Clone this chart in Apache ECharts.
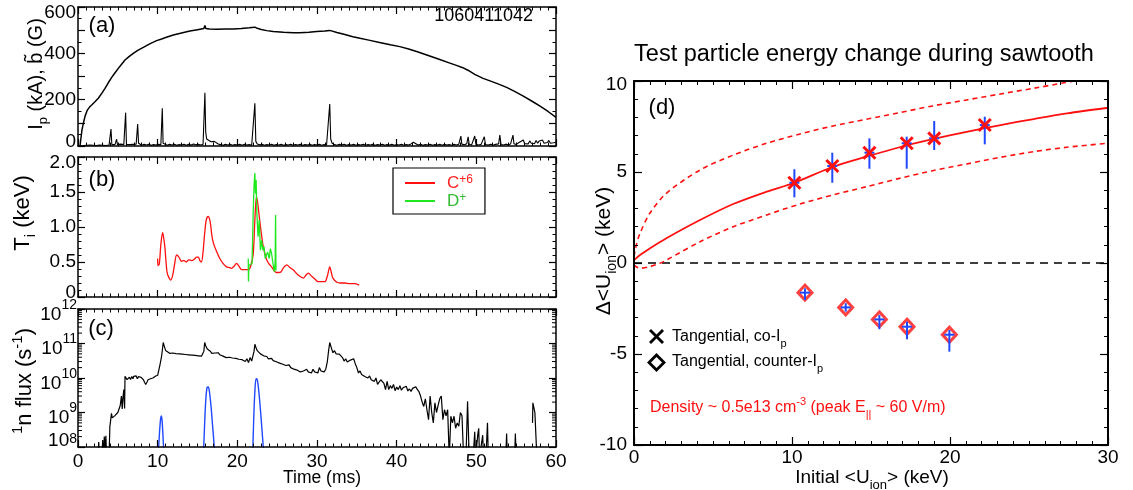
<!DOCTYPE html>
<html><head><meta charset="utf-8">
<script src="https://cdn.jsdelivr.net/npm/echarts@6/dist/echarts.min.js"></script>
<style>html,body{margin:0;padding:0;background:#fff}#c{width:1133px;height:490px}</style>
</head><body><div id="c"></div>
<script>
const FONT = '"Liberation Sans", Arial, Helvetica, sans-serif';

// ---------- Panel (a): plasma current and b-tilde (time ms, value) ----------
const ipCurrent = [[0.25,0],[0.5,70],[0.67,98],[0.9,130],[1.17,155],[1.45,168],[1.72,177],[2.1,190],[2.55,206],[3.0,228],[3.39,249],[3.8,273],[4.23,296],[4.65,316],[5.06,335],[5.5,354],[5.9,371],[6.4,386],[6.94,400],[7.5,413],[8.2,426],[9.0,441],[9.87,455],[10.5,462],[11.0,468],[11.96,479],[13.0,488],[14.05,496],[15.0,502],[15.8,507],[15.93,520],[16.05,507],[16.5,505],[17.4,504],[18.5,505],[19.5,505],[20.5,507],[21.5,510],[22.2,513],[22.5,508],[23.0,503],[23.7,498],[24.5,494],[25.8,491],[27.0,489],[27.85,489],[29.0,491],[29.95,494],[31.0,496],[31.6,499],[32.5,490],[33.5,481],[34.5,472],[35.4,465],[36.5,457],[38.0,446],[39.2,437],[40.4,429],[41.5,419],[42.6,407],[43.6,395],[44.6,383],[45.5,372],[46.5,360],[47.5,348],[48.3,338],[49.0,326],[49.8,309],[50.85,292],[51.8,280],[52.8,267],[53.8,253],[54.8,236],[55.9,215],[57.1,191],[58.0,172],[59.0,149],[60,124]];
const bTilde = [[0.3,0],[0.5,6],[0.7,2],[0.9,8],[1.1,3],[1.3,7],[1.5,4],[1.7,9],[1.9,3],[2.1,6],[2.3,2],[2.5,7],[2.7,4],[2.9,8],[3.1,3],[3.3,6],[3.5,2],[3.7,7],[3.9,4],[4.05,6],[4.14,73],[4.25,5],[4.45,3],[4.65,7],[4.78,10],[4.85,29],[4.95,6],[5.15,3],[5.35,8],[5.55,4],[5.75,6],[5.9,9],[5.98,144],[6.08,7],[6.3,3],[6.5,6],[6.7,2],[6.9,7],[7.1,4],[7.3,8],[7.4,10],[7.49,95],[7.6,12],[7.8,6],[8.0,3],[8.3,7],[8.6,4],[8.9,8],[9.2,3],[9.5,6],[9.8,4],[10.1,7],[10.4,5],[10.5,9],[10.58,163],[10.68,12],[10.9,6],[11.2,3],[11.5,7],[11.8,4],[12.1,8],[12.4,3],[12.7,6],[13.0,4],[13.3,8],[13.6,3],[13.9,7],[14.2,4],[14.5,9],[14.8,5],[15.1,7],[15.4,4],[15.7,8],[15.85,12],[15.93,230],[16.03,60],[16.15,30],[16.4,22],[16.7,18],[16.9,26],[17.1,20],[17.3,14],[17.6,9],[17.9,6],[18.2,3],[18.5,7],[18.8,4],[19.1,8],[19.4,3],[19.7,6],[20.0,4],[20.3,7],[20.6,3],[20.9,8],[21.2,4],[21.5,6],[21.8,3],[22.05,10],[22.2,184],[22.32,20],[22.5,9],[22.8,5],[23.1,7],[23.4,3],[23.7,6],[24.0,4],[24.3,8],[24.6,3],[24.9,6],[25.2,4],[25.5,7],[25.8,3],[26.1,6],[26.4,4],[26.7,8],[27.0,3],[27.3,6],[27.6,4],[27.9,7],[28.2,3],[28.5,6],[28.8,4],[29.1,8],[29.4,3],[29.7,6],[30.0,4],[30.3,7],[30.6,3],[30.9,6],[31.2,4],[31.45,12],[31.6,181],[31.72,30],[31.9,12],[32.2,6],[32.5,3],[32.8,7],[33.1,4],[33.4,8],[33.7,3],[34.0,6],[34.3,4],[34.6,7],[34.9,3],[35.2,6],[35.5,4],[35.8,8],[36.1,3],[36.4,6],[36.7,4],[37.0,7],[37.3,3],[37.6,6],[37.9,4],[38.2,8],[38.5,3],[38.8,6],[39.1,4],[39.4,7],[39.7,3],[40.0,6],[40.3,4],[40.6,8],[40.9,3],[41.2,6],[41.5,4],[41.8,9],[42.1,16],[42.4,10],[42.7,4],[43.0,7],[43.3,3],[43.6,6],[43.9,4],[44.2,8],[44.5,3],[44.8,6],[45.1,4],[45.4,7],[45.7,3],[46.0,8],[46.3,4],[46.6,6],[46.9,3],[47.2,7],[47.5,4],[47.8,8],[47.95,12],[48.06,43],[48.18,8],[48.5,5],[48.8,10],[48.97,40],[49.1,8],[49.4,4],[49.65,9],[49.8,43],[49.95,7],[50.3,4],[50.6,7],[50.85,10],[51.0,40],[51.15,6],[51.5,4],[51.8,8],[52.1,3],[52.4,7],[52.8,9],[52.95,47],[53.1,6],[53.4,4],[53.7,8],[54.0,5],[54.3,9],[54.48,12],[54.6,47],[54.72,10],[55.0,6],[55.3,14],[55.5,8],[55.9,26],[56.05,10],[56.3,18],[56.5,9],[56.7,22],[56.9,12],[57.1,20],[57.3,10],[57.5,24],[57.7,12],[57.9,22],[58.1,14],[58.3,26],[58.5,12],[58.7,20],[58.9,15],[59.1,24],[59.3,12],[59.5,20],[59.7,14],[59.9,22],[60.0,16]];

// ---------- Panel (b): ion temperatures (time ms, keV) ----------
const tiCarbon = [[10.0,0.55],[10.03,0.45],[10.2,0.47],[10.4,0.75],[10.62,0.92],[10.75,0.85],[10.9,0.72],[11.05,0.5],[11.2,0.34],[11.4,0.28],[11.63,0.24],[11.88,0.31],[12.1,0.45],[12.38,0.6],[12.6,0.58],[12.8,0.54],[13.0,0.51],[13.3,0.52],[13.6,0.5],[13.9,0.53],[14.26,0.52],[14.6,0.54],[14.9,0.57],[15.1,0.57],[15.3,0.52],[15.5,0.5],[15.7,0.65],[15.9,0.91],[16.1,1.1],[16.35,1.15],[16.5,1.12],[16.65,1.03],[16.8,0.88],[17.0,0.77],[17.4,0.65],[17.8,0.55],[18.2,0.48],[18.65,0.43],[19.0,0.42],[19.28,0.41],[19.6,0.44],[19.9,0.48],[20.2,0.44],[20.55,0.39],[21.0,0.39],[21.4,0.39],[21.7,0.45],[22.0,0.62],[22.2,1.1],[22.4,1.43],[22.55,1.35],[22.75,1.15],[23.0,0.92],[23.25,0.72],[23.5,0.6],[23.7,0.53],[24.0,0.47],[24.3,0.43],[24.6,0.38],[24.9,0.35],[25.2,0.35],[25.5,0.36],[25.8,0.42],[26.2,0.46],[26.6,0.42],[27.0,0.39],[27.4,0.34],[27.8,0.3],[28.3,0.27],[28.6,0.31],[28.9,0.34],[29.3,0.3],[29.8,0.25],[30.1,0.22],[30.4,0.22],[31.0,0.22],[31.3,0.3],[31.6,0.43],[31.8,0.35],[32.0,0.27],[32.5,0.21],[32.9,0.2],[33.5,0.2],[34.1,0.19],[34.7,0.19],[35.3,0.17]];
const tiDeuterium = [[21.37,0.55],[21.4,0.22],[21.45,0.45],[21.7,0.45],[21.85,0.48],[22.0,1.24],[22.1,1.6],[22.2,1.77],[22.28,1.48],[22.36,1.67],[22.45,1.2],[22.6,0.86],[22.75,1.1],[22.9,0.67],[23.05,0.81],[23.2,0.67],[23.35,0.72],[23.5,0.55],[23.65,0.6],[23.8,0.64],[24.0,0.55],[24.15,0.69],[24.3,0.62],[24.45,0.5],[24.65,0.36],[24.75,0.5],[24.8,1.17],[24.85,0.38]];

// ---------- Panel (c): neutron flux (time ms, s^-1) ----------
const neutronFlux = [[2.5,5e7],[2.6,1.4e8],[2.7,5e7],[3.0,5e7],[3.1,1.6e8],[3.2,5e7],[3.3,2.0e8],[3.4,8e7],[3.5,2.1e8],[3.6,5e7],[3.9,5e7],[4.0,3.9e8],[4.1,6e8],[4.2,9.5e8],[4.3,7e8],[4.45,6.3e8],[4.6,8e8],[4.75,7.5e8],[4.85,8.5e8],[5.0,1.0e9],[5.15,1.1e9],[5.3,1.6e9],[5.45,3.0e9],[5.55,1.26e9],[5.65,2.8e9],[5.75,4.6e9],[5.85,1.3e9],[5.9,1.12e10],[6.0,1.26e10],[6.15,9e9],[6.3,8.5e9],[6.45,1.05e10],[6.6,9e9],[6.75,1.1e10],[6.9,9.5e9],[7.0,1.12e10],[7.15,1.0e10],[7.3,1.15e10],[7.45,9.5e9],[7.6,1.1e10],[7.75,1.2e10],[7.9,1.05e10],[8.05,1.15e10],[8.2,9e9],[8.35,7.5e9],[8.5,6.5e9],[8.65,7.5e9],[8.8,8.9e9],[8.95,7.8e9],[9.1,9.5e9],[9.25,8.5e9],[9.4,1.0e10],[9.55,9.5e9],[9.7,1.12e10],[9.85,1.0e10],[10.0,1.2e10],[10.3,2.5e10],[10.5,4.4e10],[10.7,1.07e11],[10.85,8e10],[11.0,6.3e10],[11.2,5.6e10],[11.5,5.2e10],[11.7,5.0e10],[11.9,5.3e10],[12.1,4.8e10],[12.3,5.1e10],[12.5,4.7e10],[12.7,5.0e10],[12.9,4.6e10],[13.1,4.9e10],[13.3,4.5e10],[13.5,4.8e10],[13.7,4.4e10],[13.9,4.7e10],[14.1,4.3e10],[14.3,4.6e10],[14.5,4.2e10],[14.7,4.5e10],[14.9,4.1e10],[15.1,4.4e10],[15.3,4.0e10],[15.5,4.3e10],[15.7,3.9e10],[15.8,6e10],[15.9,1.07e11],[16.05,8.5e10],[16.2,7e10],[16.4,6.4e10],[16.6,6.0e10],[16.8,5.2e10],[17.0,4.9e10],[17.2,5.3e10],[17.4,4.8e10],[17.6,5.4e10],[17.8,4.7e10],[18.0,4.9e10],[18.2,4.3e10],[18.4,4.5e10],[18.6,3.9e10],[18.8,4.3e10],[19.0,4.0e10],[19.2,4.4e10],[19.4,3.8e10],[19.6,4.2e10],[19.8,3.7e10],[20.0,4.0e10],[20.2,3.5e10],[20.4,3.8e10],[20.6,3.4e10],[20.8,3.7e10],[21.0,3.0e10],[21.2,3.6e10],[21.4,2.8e10],[21.6,3.9e10],[21.8,3.1e10],[22.0,3.5e10],[22.1,6e10],[22.2,9.5e10],[22.35,7.5e10],[22.5,6.2e10],[22.7,5.5e10],[22.9,5.0e10],[23.1,4.6e10],[23.3,4.4e10],[23.5,4.0e10],[23.7,4.2e10],[23.9,3.6e10],[24.1,3.4e10],[24.3,3.7e10],[24.5,3.2e10],[24.7,3.4e10],[24.9,2.95e10],[25.1,3.1e10],[25.3,2.7e10],[25.5,2.9e10],[25.7,2.5e10],[25.9,2.7e10],[26.1,2.3e10],[26.3,2.2e10],[26.5,2.4e10],[26.7,2.0e10],[26.9,2.2e10],[27.1,1.8e10],[27.3,1.9e10],[27.5,1.7e10],[27.7,1.8e10],[27.9,1.5e10],[28.1,1.7e10],[28.3,1.6e10],[28.5,1.5e10],[28.7,1.8e10],[28.9,1.5e10],[29.1,1.7e10],[29.3,1.4e10],[29.5,1.8e10],[29.7,1.5e10],[29.9,1.6e10],[30.1,1.4e10],[30.3,2.0e10],[30.5,1.6e10],[30.7,1.7e10],[30.9,1.5e10],[31.1,1.8e10],[31.3,3e10],[31.45,6e10],[31.6,1.07e11],[31.8,7.5e10],[32.0,5.4e10],[32.2,6.2e10],[32.4,5.0e10],[32.6,5.6e10],[32.8,4.9e10],[33.0,5.2e10],[33.2,3.9e10],[33.4,3.1e10],[33.6,3.6e10],[33.8,2.9e10],[34.0,2.75e10],[34.2,3.3e10],[34.4,3.1e10],[34.6,3.6e10],[34.8,2.6e10],[35.0,2.0e10],[35.2,1.4e10],[35.4,1.6e10],[35.6,1.26e10],[35.8,1.4e10],[36.0,1.1e10],[36.2,1.2e10],[36.4,1.0e10],[36.6,1.15e10],[36.8,8.9e9],[37.0,9.5e9],[37.2,8e9],[37.4,1.0e10],[37.6,6.5e9],[37.8,7e9],[38.0,8.9e9],[38.2,9.5e9],[38.4,7e9],[38.6,4.6e9],[38.8,8e9],[39.0,4.6e9],[39.2,6e9],[39.4,5.0e9],[39.6,6.5e9],[39.8,4.3e9],[40.0,5.5e9],[40.2,4.6e9],[40.4,6e9],[40.6,4.4e9],[40.8,5.2e9],[41.0,4.6e9],[41.2,5.8e9],[41.4,4.2e9],[41.6,4.8e9],[41.8,4.1e9],[42.0,5.0e9],[42.2,4.5e9],[42.4,5.6e9],[42.6,4.6e9],[42.8,4.0e9],[43.0,3.0e9],[43.2,2.0e9],[43.4,1.5e9],[43.6,2.5e9],[43.8,1.2e9],[44.0,6.2e8],[44.2,3.0e9],[44.4,1.0e9],[44.6,5.0e8],[44.8,1.9e9],[45.0,1.0e9],[45.2,1.6e9],[45.4,2.5e9],[45.6,3.0e9],[45.8,6.2e8],[46.0,1.2e9],[46.2,8e8],[46.4,1.2e9],[46.6,5e7],[46.8,7.8e8],[47.0,5.0e8],[47.2,7.8e8],[47.4,3.5e8],[47.6,5.0e8],[47.8,4e8],[48.0,1.0e9],[48.2,8e8],[48.4,5e7],[48.7,5e7],[48.9,2.1e9],[49.0,2.0e9],[49.1,5e7],[49.6,5e7],[49.8,2.75e8],[49.9,5e7],[50.2,2.5e8],[50.3,3.5e8],[50.4,5e7],[50.6,5e7],[50.8,2.2e8],[50.9,5e7],[51.2,5e7],[51.4,5.0e8],[51.5,5e7],[53.7,5e7],[53.8,2.45e8],[53.9,5e7],[54.8,5e7],[54.9,2.45e8],[55.0,5e7],[56.9,'-'],[57.05,5.0e8],[57.1,1.9e9],[57.25,1.7e9],[57.35,1.0e9],[57.5,1.0e9],[57.6,5e7]];
const fastIonFlux = [[10.0,3e7],[10.2,2e8],[10.35,6e8],[10.45,8e8],[10.55,6e8],[10.7,1.5e8],[10.85,3e7],[13,'-'],[15.7,3e7],[15.9,5e8],[16.05,2.5e9],[16.2,5.3e9],[16.35,5.5e9],[16.5,4e9],[16.7,1.5e9],[16.9,4e8],[17.1,1e8],[17.2,3e7],[19,'-'],[21.9,3e7],[22.05,6e8],[22.2,4e9],[22.35,9.5e9],[22.5,9e9],[22.7,4e9],[22.9,1.2e9],[23.1,3e8],[23.35,5e7]];
const logDecades = [1e8, 1e9, 1e10, 1e11];
const logMinorMultipliers = [2, 3, 4, 5, 6, 7, 8, 9];

// ---------- Panel (d): test particle energy change (keV) ----------
const coU   = [10.15, 12.55, 14.9, 17.26, 19.0, 22.2];
const coDU  = [4.41, 5.33, 6.06, 6.58, 6.85, 7.58];
const coLo  = [3.61, 4.41, 5.18, 5.18, 6.21, 6.52];
const coHi  = [5.15, 6.06, 6.85, 6.94, 7.80, 8.04];
const ctrU  = [10.82, 13.4, 15.53, 17.28, 19.96];
const ctrDU = [-1.63, -2.44, -3.1, -3.5, -3.94];
const ctrLo = [-2.03, -2.67, -3.64, -4.19, -4.87];
const ctrHi = [-1.39, -2.21, -2.86, -3.22, -3.68];
const fitU   = [0, 0.38, 1.0, 2.05, 4.18, 6.28, 8.4, 10.15, 12.6, 14.7, 16.8, 18.9, 21.05, 23.2, 25.3, 27.4, 30];
const fitMid = [0.16, 0.44, 0.8, 1.36, 2.36, 3.24, 3.92, 4.41, 5.29, 5.84, 6.36, 6.8, 7.21, 7.58, 7.91, 8.22, 8.53];
const upU  = [0, 0.15, 0.38, 1.0, 2.05, 4.18, 6.28, 8.4, 10.5, 12.6, 14.7, 16.8, 18.9, 21.05, 23.2, 25.3, 27.2, 30];
const upDU = [0.35, 1.0, 1.63, 2.73, 3.83, 5.11, 5.93, 6.58, 7.09, 7.53, 7.9, 8.26, 8.63, 8.96, 9.29, 9.6, 9.9, 10.35];
const loU  = [0, 0.38, 1.0, 1.63, 2.05, 4.18, 6.28, 8.4, 10.5, 12.6, 14.7, 16.8, 18.9, 21.05, 23.2, 25.3, 27.4, 30];
const loDU = [-0.11, -0.29, -0.2, -0.02, 0.16, 1.17, 1.99, 2.64, 3.24, 3.74, 4.19, 4.65, 5.07, 5.44, 5.81, 6.12, 6.36, 6.58];

const zip = (a, b) => a.map((v, i) => [v, b[i]]);

function rich(size, color) {
  const s = Math.round(size * 0.66);
  return {
    sup: {fontSize: s, fontFamily: FONT, verticalAlign: 'top', fill: color, color: color},
    sub: {fontSize: s, fontFamily: FONT, verticalAlign: 'bottom', fill: color, color: color}
  };
}
function txt(x, y, text, size, o) {
  o = o || {};
  const color = o.color || '#000';
  return {type: 'text', x: x, y: y, rotation: o.rot || 0, silent: true, z: 100,
    style: {text: text, fontSize: size, fontFamily: FONT, fill: color,
      align: o.align || 'center', verticalAlign: 'middle', lineHeight: o.lh || Math.round(size * 1.3),
      rich: rich(size, color)}};
}

// rich styles that push the end labels of an axis inward
const edgeRich = {
  t:  {fontSize: 19, fontFamily: FONT, color: '#000', padding: [11, 0, 0, 0]},
  t8: {fontSize: 19, fontFamily: FONT, color: '#000', padding: [8, 0, 0, 0]},
  m:  {fontSize: 19, fontFamily: FONT, color: '#000', padding: [0, 0, 9, 0]}
};

function axis(o) {
  const a = {
    type: o.type || 'value', gridIndex: o.grid, position: o.pos,
    min: o.min, max: o.max,
    axisLine: {show: true, onZero: false, lineStyle: {color: '#000', width: o.lw || 1.5}},
    axisTick: {show: true, inside: true, length: o.tl || 7, lineStyle: {color: '#000', width: 1.2}},
    minorTick: {show: !!o.minor, splitNumber: o.minor || 5, length: o.ml || 3.5, lineStyle: {color: '#000', width: 1}},
    splitLine: {show: false}, minorSplitLine: {show: false},
    axisLabel: o.labels ? {show: true, margin: o.margin == null ? 3 : o.margin, fontSize: 19, color: '#000',
      fontFamily: FONT, formatter: o.fmt, rich: o.rich || edgeRich, showMinLabel: true, showMaxLabel: true, hideOverlap: false}
      : {show: false},
    z: 10
  };
  if (o.interval != null) a.interval = o.interval;
  if (o.type === 'log') a.logBase = 10;
  return a;
}

const xAxes = [
  axis({grid: 0, pos: 'bottom', min: 0, max: 60, interval: 10, minor: 10}),
  axis({grid: 0, pos: 'top', min: 0, max: 60, interval: 10, minor: 10}),
  axis({grid: 1, pos: 'bottom', min: 0, max: 60, interval: 10, minor: 10}),
  axis({grid: 1, pos: 'top', min: 0, max: 60, interval: 10, minor: 10}),
  axis({grid: 2, pos: 'bottom', min: 0, max: 60, interval: 10, minor: 10, labels: true, margin: 5}),
  axis({grid: 2, pos: 'top', min: 0, max: 60, interval: 10, minor: 10}),
  axis({grid: 3, pos: 'bottom', min: 0, max: 30, interval: 10, minor: 10, labels: true, margin: 3, lw: 2, tl: 8, ml: 4}),
  axis({grid: 3, pos: 'top', min: 0, max: 30, interval: 10, minor: 10, lw: 2, tl: 8, ml: 4})
];
const logRich = {
  b:  {fontSize: 19, fontFamily: FONT, color: '#000', verticalAlign: 'bottom', lineHeight: 30},
  s:  {fontSize: 14, fontFamily: FONT, color: '#000', verticalAlign: 'top', padding: [4, 0, 0, 0]},
  bm: {fontSize: 19, fontFamily: FONT, color: '#000', verticalAlign: 'bottom', lineHeight: 30, padding: [0, 0, 12, 0]},
  sm: {fontSize: 14, fontFamily: FONT, color: '#000', verticalAlign: 'top'}
};
const yAxes = [
  axis({grid: 0, pos: 'left', min: 0, max: 600, interval: 100, minor: 2, labels: true, margin: 2,
        fmt: v => (v === 600 ? '{t|600}' : v === 0 ? '{m|0}' : (v % 200 === 0 ? String(v) : ''))}),
  axis({grid: 0, pos: 'right', min: 0, max: 600, interval: 100, minor: 2}),
  axis({grid: 1, pos: 'left', min: 0, max: 2, interval: 0.5, minor: 5, labels: true, margin: 2,
        fmt: v => (v === 0 ? '{m|0}' : v === 2 ? '{t|2.0}' : v.toFixed(1))}),
  axis({grid: 1, pos: 'right', min: 0, max: 2, interval: 0.5, minor: 5}),
  axis({grid: 2, pos: 'left', type: 'log', min: 1e8, max: 1e12, labels: true, margin: 1, rich: logRich,
        fmt: v => { const e = Math.round(Math.log10(v)); return e === 8 ? '{bm|10}{sm|8}' : '{b|10}{s|' + e + '}'; }}),
  axis({grid: 2, pos: 'right', type: 'log', min: 1e8, max: 1e12}),
  axis({grid: 3, pos: 'left', min: -10, max: 10, interval: 5, minor: 5, labels: true, margin: 7, lw: 2, tl: 8, ml: 4,
        fmt: v => (v === 10 ? '{t8|10}' : String(v))}),
  axis({grid: 3, pos: 'right', min: -10, max: 10, interval: 5, minor: 5, lw: 2, tl: 8, ml: 4})
];

const lineS = (name, data, xi, yi, color, width, extra) => Object.assign({
  type: 'line', name: name, data: data, xAxisIndex: xi, yAxisIndex: yi,
  showSymbol: false, symbol: 'none', silent: true, clip: true, connectNulls: false,
  lineStyle: {color: color, width: width}, itemStyle: {color: color}, z: 3
}, extra || {});

const logMinorData = [];
logDecades.forEach(d => logMinorMultipliers.forEach(m => logMinorData.push([0, d * m])));

const RED = '#ff1010', BLUE = '#1f48ff', GREEN = '#1ee81e';

const series = [
  lineS('ip', ipCurrent, 0, 0, '#000', 1.5),
  lineS('btilde', bTilde, 0, 0, '#000', 1.1),
  lineS('C+6', tiCarbon, 2, 2, RED, 1.3, {smooth: 0.3}),
  lineS('D+', tiDeuterium, 2, 2, GREEN, 1.3),
  lineS('flux', neutronFlux, 4, 4, '#000', 1.2),
  lineS('fast', fastIonFlux, 4, 4, BLUE, 1.4, {smooth: 0.3}),
  {type: 'custom', name: 'logminor', xAxisIndex: 4, yAxisIndex: 4, data: logMinorData, silent: true, clip: false, z: 10,
   renderItem: (params, api) => {
     const v = api.value(1);
     const pl = api.coord([0, v]), pr = api.coord([60, v]);
     const st = {stroke: '#000', lineWidth: 1};
     return {type: 'group', children: [
       {type: 'line', shape: {x1: pl[0], y1: pl[1], x2: pl[0] + 4, y2: pl[1]}, style: st},
       {type: 'line', shape: {x1: pr[0], y1: pr[1], x2: pr[0] - 4, y2: pr[1]}, style: st}
     ]};
   }},
  lineS('zero', [[0, 0], [30, 0]], 6, 6, '#000', 1.5, {lineStyle: {color: '#000', width: 1.5, type: [8, 6]}}),
  lineS('fit', zip(fitU, fitMid), 6, 6, RED, 1.8, {smooth: 0.3}),
  lineS('fitUp', zip(upU, upDU), 6, 6, RED, 1.6, {smooth: 0.3, lineStyle: {color: RED, width: 1.6, type: [5, 4]}}),
  lineS('fitLo', zip(loU, loDU), 6, 6, RED, 1.6, {smooth: 0.3, lineStyle: {color: RED, width: 1.6, type: [5, 4]}}),
  {type: 'custom', name: 'coErr', xAxisIndex: 6, yAxisIndex: 6, silent: true, z: 4,
   data: coU.map((u, i) => [u, coDU[i], coLo[i], coHi[i]]),
   renderItem: (params, api) => {
     const c = api.coord([api.value(0), api.value(1)]);
     const lo = api.coord([api.value(0), api.value(2)]), hi = api.coord([api.value(0), api.value(3)]);
     const st = {stroke: BLUE, lineWidth: 2};
     return {type: 'group', children: [
       {type: 'line', shape: {x1: lo[0], y1: lo[1], x2: hi[0], y2: hi[1]}, style: st},
       {type: 'line', shape: {x1: c[0] - 5, y1: c[1], x2: c[0] + 5, y2: c[1]}, style: st}
     ]};
   }},
  {type: 'custom', name: 'coX', xAxisIndex: 6, yAxisIndex: 6, silent: true, z: 5,
   data: zip(coU, coDU),
   renderItem: (params, api) => {
     const c = api.coord([api.value(0), api.value(1)]);
     const s = 6, st = {stroke: RED, lineWidth: 3};
     return {type: 'group', children: [
       {type: 'line', shape: {x1: c[0] - s, y1: c[1] - s, x2: c[0] + s, y2: c[1] + s}, style: st},
       {type: 'line', shape: {x1: c[0] - s, y1: c[1] + s, x2: c[0] + s, y2: c[1] - s}, style: st}
     ]};
   }},
  {type: 'scatter', name: 'ctr', xAxisIndex: 6, yAxisIndex: 6, silent: true, z: 5,
   data: zip(ctrU, ctrDU), symbol: 'diamond', symbolSize: [14, 15],
   itemStyle: {color: 'rgba(0,0,0,0)', borderColor: RED, borderWidth: 3}},
  {type: 'custom', name: 'ctrErr', xAxisIndex: 6, yAxisIndex: 6, silent: true, z: 6,
   data: ctrU.map((u, i) => [u, ctrDU[i], ctrLo[i], ctrHi[i]]),
   renderItem: (params, api) => {
     const c = api.coord([api.value(0), api.value(1)]);
     const lo = api.coord([api.value(0), api.value(2)]), hi = api.coord([api.value(0), api.value(3)]);
     const st = {stroke: BLUE, lineWidth: 2};
     return {type: 'group', children: [
       {type: 'line', shape: {x1: lo[0], y1: lo[1], x2: hi[0], y2: hi[1]}, style: st},
       {type: 'line', shape: {x1: c[0] - 5, y1: c[1], x2: c[0] + 5, y2: c[1]}, style: st}
     ]};
   }}
];

const graphics = [
  txt(102, 26, '(a)', 22),
  txt(102, 180, '(b)', 22),
  txt(101, 329, '(c)', 22),
  txt(662, 108, '(d)', 22),
  txt(533, 16, '1060411042', 18, {align: 'right'}),
  txt(864, 55, 'Test particle energy change during sawtooth', 23.5),
  txt(36, 74, 'I{sub|p} (kA), b\u0303 (G)', 20, {rot: Math.PI / 2, lh: 28}),
  txt(23, 213, 'T{sub|i} (keV)', 22, {rot: Math.PI / 2, lh: 30}),
  txt(25, 381, '{sup|1}n flux (s{sup|-1})', 22, {rot: Math.PI / 2, lh: 30}),
  txt(322, 478, 'Time (ms)', 17.5),
  txt(604, 251, '\u0394<U{sub|ion}> (keV)', 21, {rot: Math.PI / 2, lh: 30}),
  txt(872, 478, 'Initial <U{sub|ion}> (keV)', 19, {lh: 28}),
  txt(672, 337, 'Tangential, co-I{sub|p}', 16, {align: 'left', lh: 24}),
  txt(672, 362, 'Tangential, counter-I{sub|p}', 16, {align: 'left', lh: 24}),
  txt(650, 408, 'Density ~ 0.5e13 cm{sup|-3} (peak E{sub|||} ~ 60 V/m)', 16, {align: 'left', color: RED, lh: 24}),
  {type: 'group', silent: true, z: 100, children: [
    {type: 'line', shape: {x1: 650, y1: 330, x2: 663, y2: 343}, style: {stroke: '#000', lineWidth: 2.8}},
    {type: 'line', shape: {x1: 650, y1: 343, x2: 663, y2: 330}, style: {stroke: '#000', lineWidth: 2.8}},
    {type: 'polygon', shape: {points: [[656.5, 355], [664, 362.5], [656.5, 370], [649, 362.5]]},
     style: {stroke: '#000', lineWidth: 2.8, fill: 'none'}}
  ]}
];

const option = {
  animation: false,
  backgroundColor: '#fff',
  grid: [
    {left: 78, top: 7, width: 478, height: 139, outerBoundsMode: 'none', containLabel: false},
    {left: 78, top: 157, width: 478, height: 140, outerBoundsMode: 'none', containLabel: false},
    {left: 78, top: 309, width: 478, height: 138, outerBoundsMode: 'none', containLabel: false},
    {left: 634, top: 81, width: 474, height: 364, outerBoundsMode: 'none', containLabel: false}
  ],
  xAxis: xAxes,
  yAxis: yAxes,
  legend: [{
    data: [{name: 'C+6', textStyle: {color: '#ff2020'}}, {name: 'D+', textStyle: {color: '#33bb33'}}],
    orient: 'vertical', left: 393, top: 168, itemWidth: 30, itemHeight: 2, icon: 'rect', itemGap: 0,
    borderColor: '#000', borderWidth: 1.2, padding: [6, 12, 4, 12], selectedMode: false,
    textStyle: {fontFamily: FONT, fontSize: 17, lineHeight: 18, padding: [0, 0, 0, 7],
      rich: {sup: {fontSize: 12, fontFamily: FONT, verticalAlign: 'top'}}},
    formatter: n => (n === 'C+6' ? 'C{sup|+6}' : 'D{sup|+}')
  }],
  series: series,
  graphic: graphics
};

const chart = echarts.init(document.getElementById('c'), null, {renderer: 'canvas'});
chart.setOption(option);
</script></body></html>
